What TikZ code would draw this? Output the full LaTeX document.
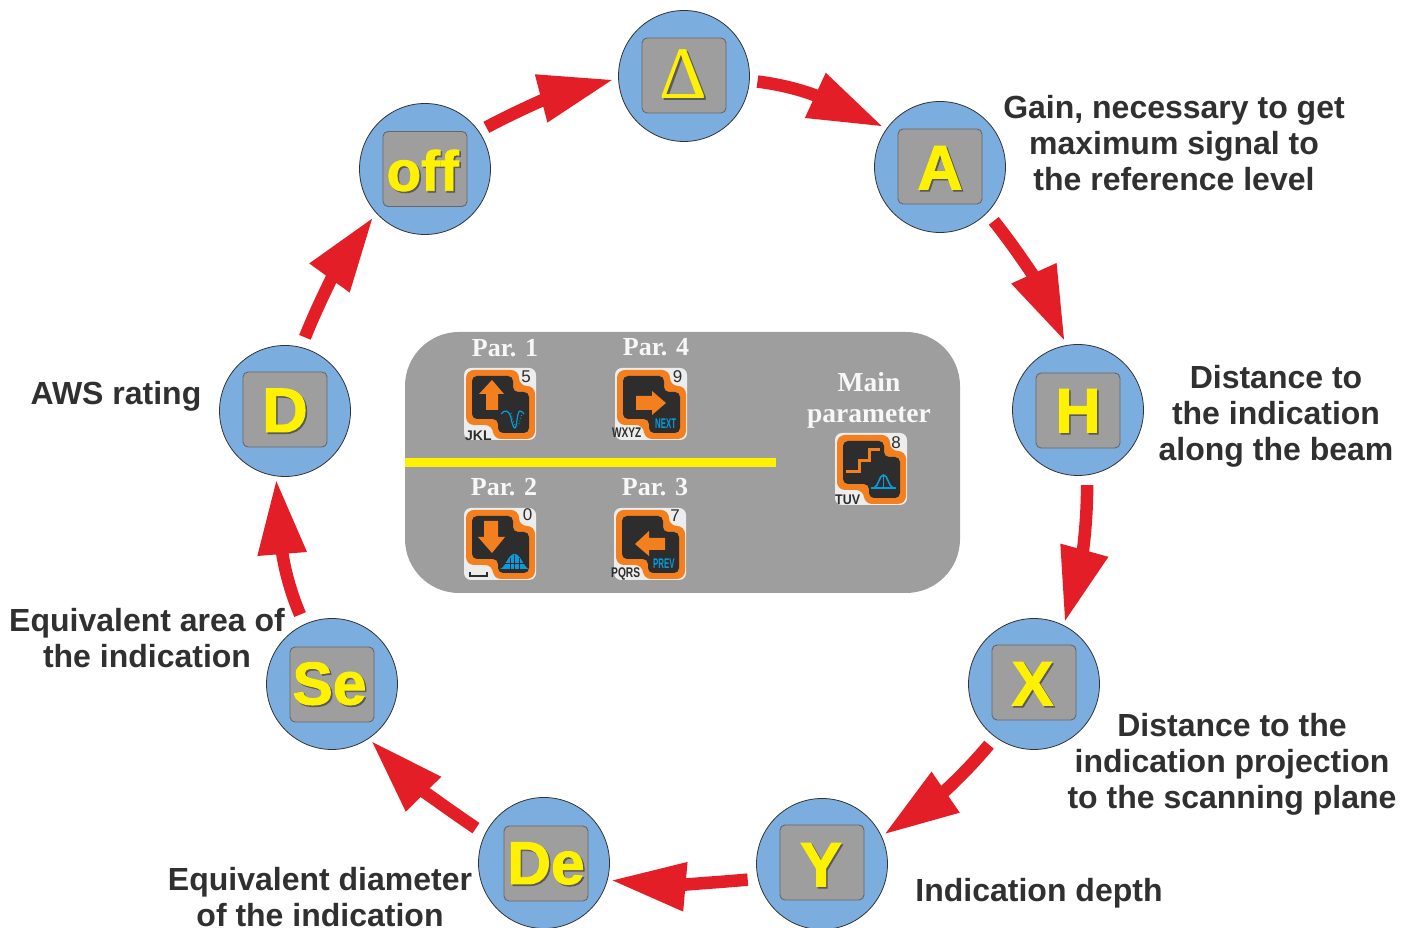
\documentclass[tikz,border=0pt]{standalone}
\usepackage{fontspec}
\usepackage{graphicx}
\setmainfont{Liberation Sans}
\newfontfamily\serifbold{Liberation Serif Bold}
\newfontfamily\serifreg{Liberation Serif}
\newfontfamily\bigf[FakeBold=1.5]{Liberation Sans Bold}
\usetikzlibrary{arrows.meta,calc}
\definecolor{circfill}{HTML}{7BAEDE}
\definecolor{sqfill}{HTML}{9E9E9E}
\definecolor{sqline}{HTML}{666666}
\definecolor{ylw}{HTML}{FFF200}
\definecolor{shd}{HTML}{5A5A5A}
\definecolor{redarrow}{HTML}{E31E26}
\definecolor{lbl}{HTML}{303030}
\definecolor{pale}{HTML}{EDEDED}
\definecolor{orng}{HTML}{F37F1E}
\definecolor{darkkey}{HTML}{2D2D2D}
\definecolor{bluek}{HTML}{0A9BDC}
\newcommand{\shtxt}[1]{\makebox[0pt][l]{\hspace{1.6pt}\raisebox{-1.6pt}{\textcolor{shd}{#1}}}#1}
\tikzset{
  keycirc/.style={circle,draw=black!80,line width=.8pt,fill=circfill,minimum size=131pt,inner sep=0pt,outer sep=0pt},
  keysq/.style={rectangle,draw=sqline,line width=.9pt,fill=sqfill,rounded corners=5pt,minimum width=84pt,minimum height=75pt,inner sep=0pt},
  bigl/.style={anchor=base,inner sep=0pt,text=ylw,font=\fontsize{63}{63}\selectfont\bigf},
  desc/.style={align=center,text=lbl,inner sep=0pt,font=\fontsize{32}{36}\selectfont\bfseries},
  ptxt/.style={inner sep=0pt,text=white!97!black,font=\fontsize{26}{31}\selectfont\serifbold,align=center},
  cyc/.style={draw=redarrow,line width=12.5pt,-{Triangle[length=75pt,width=46pt,fill=redarrow]}},
  kdigit/.style={inner sep=0pt,text=darkkey,font=\fontsize{17}{17}\selectfont},
  kletters/.style={inner sep=0pt,anchor=base west,text=darkkey,font=\fontsize{14}{14}\selectfont\bfseries},
  kblue/.style={inner sep=0pt,anchor=base west,text=bluek,font=\fontsize{14}{14}\selectfont\bfseries},
  keyat/.style 2 args={shift={(#1,928-#2)},yscale=-1},
  keybase/.pic={
    \fill[pale,rounded corners=7pt] (0,0) -- (72,0) -- (72,72) -- (0,72) -- cycle;
    \fill[orng,rounded corners=8pt] (2,2) -- (55,2) -- (55,18) -- (71,18) -- (71,71) -- (29,71) -- (29,57) -- (2,57) -- cycle;
    \fill[darkkey,rounded corners=5pt] (8,8) -- (49,8) -- (49,24) -- (65,24) -- (65,65) -- (34,65) -- (34,51) -- (8,51) -- cycle;
  }
}
\begin{document}
\begin{tikzpicture}[x=1pt,y=1pt]
\useasboundingbox (0,0) rectangle (1413,928);
% central panel
\node[rectangle,fill=sqfill,rounded corners=54pt,minimum width=555pt,minimum height=261pt,inner sep=0pt] (panel) at (682.5,465.5) {};
\node[rectangle,fill=ylw,minimum width=371pt,minimum height=9pt,inner sep=0pt] (bar) at (590.5,465.5) {};
% circles
\foreach \n/\x/\y/\sx/\sy in {delta/684/852/684/852.5,A/940/761/940/761.5,H/1078/518/1078/517.5,X/1034/244/1034/245.5,Y/822/64/822/65.5,De/544/65/546/64.5,Se/332/244/332/243.5,D/285/517/285/518.5,off/425/759/425/759}{
  \node[keycirc] (\n) at (\x,\y) {};
  \node[keysq] (\n-sq) at (\sx,\sy) {};
}
% key letters
\node[bigl] (tA) at (940,738.5) {\shtxt{A}};
\node[bigl] (tH) at (1078,495.5) {\shtxt{H}};
\node[bigl] (tX) at (1032.5,222.5) {\shtxt{X}};
\node[bigl] (tY) at (821,41.5) {\shtxt{Y}};
\node[bigl,font=\fontsize{60.5}{62}\selectfont\bigf] (tDe) at (546,44) {\shtxt{De}};
\node[bigl,font=\fontsize{60.5}{62}\selectfont\bigf] (tSe) at (329.5,223.5) {\shtxt{Se}};
\node[bigl] (tD) at (285,496) {\shtxt{D}};
\node[bigl,font=\fontsize{56.5}{58}\selectfont\bigf] (toff) at (422.7,737.3) {\shtxt{off}};
\node[bigl,font=\fontsize{74}{74}\selectfont\serifreg] (tdelta) at (683.5,829) {\shtxt{Δ}};
% arrows
\draw[cyc,shorten <=8.7pt,shorten >=5pt] (off.35.7) to[out=28,in=194.6] (delta.182.6);
\draw[cyc,shorten <=8.2pt,shorten >=4pt] (delta.-4.4) to[out=-7,in=155.2] (A.144.2);
\draw[cyc,shorten <=10.7pt,shorten >=4.3pt] (A.-44.6) to[out=-51.6,in=114.4] (H.100.9);
\draw[cyc,shorten <=10.2pt,shorten >=3.2pt] (H.-82.2) to[out=-90,in=74.7] (X.63.9);
\draw[cyc,shorten <=10.1pt,shorten >=3pt] (X.234.1) to[out=230,in=34.5] (Y.25.6);
\draw[cyc,shorten <=10.5pt,shorten >=3.4pt] (Y.193.5) to[out=185,in=-5] (De.-15.7);
\draw[cyc,shorten <=11pt,shorten >=3.4pt] (De.154.4) to[out=146,in=-45.5] (Se.-56.2);
\draw[cyc,shorten <=10.9pt,shorten >=3.4pt] (Se.115.4) to[out=113,in=-85.4] (D.262);
\draw[cyc,shorten <=10.9pt,shorten >=5.3pt] (D.76.6) to[out=68,in=234.3] (off.222.2);
% descriptions
\node[desc] (dA) at (1174,785) {Gain, necessary to get\\maximum signal to\\the reference level};
\node[desc] (dH) at (1276,512) {Distance to\\the indication\\along the beam};
\node[desc] (dX) at (1232,163.5) {Distance to the\\indication projection\\to the scanning plane};
\node[desc] (dY) at (1039,35) {Indication depth};
\node[desc] (dDe) at (320,31) {Equivalent diameter\\of the indication};
\node[desc] (dSe) at (147,289.5) {Equivalent area of\\the indication};
\node[desc] (dD) at (116,532) {AWS rating};
% panel labels
\node[ptxt] (p1) at (505,580) {Par. 1};
\node[ptxt] (p4) at (656,581) {Par. 4};
\node[ptxt] (p2) at (504,441) {Par. 2};
\node[ptxt] (p3) at (655,441) {Par. 3};
\node[ptxt,font=\fontsize{27.5}{31}\selectfont\serifbold] (pm) at (869,528) {Main\\parameter};
% Par. 1 key
\begin{scope}[keyat={464}{368}]
  \pic[transform shape] {keybase};
  \fill[orng] (28,12) -- (40,26) -- (34,26) -- (34,42) -- (22,42) -- (22,26) -- (15,26) -- cycle;
  \draw[bluek,line width=1.2pt] (37,46) .. controls (41,41) and (45,42) .. (47,50) .. controls (48,56) and (50,61) .. (51,60) .. controls (53,59) and (53,43) .. (56,43) .. controls (58,43) and (59,45) .. (60,46);
  \draw[bluek,line width=.9pt,dotted] (47,45) .. controls (49,52) and (50,58) .. (53,58) .. controls (56,58) and (56,47) .. (60,43);
  \node[kdigit] (k5) at (62,8.7) {5};
  \node[kletters] (kJ) at (1,72.5) {JKL};
\end{scope}
% Par. 4 key
\begin{scope}[keyat={615}{368}]
  \pic[transform shape] {keybase};
  \fill[orng] (21,28) -- (37,28) -- (37,23) -- (51,35) -- (37,47) -- (37,42) -- (21,42) -- cycle;
  \node[kblue] (kN) at (40,60.5) {\scalebox{.56}[1]{NEXT}};
  \node[kdigit] (k9) at (62.7,8.7) {9};
  \node[kletters] (kW) at (-3,70) {\scalebox{.72}[1]{WXYZ}};
\end{scope}
% Par. 2 key
\begin{scope}[keyat={464}{508}]
  \pic[transform shape] {keybase};
  \fill[orng] (20,13) -- (34,13) -- (34,29) -- (41,29) -- (28,45) -- (14,29) -- (20,29) -- cycle;
  \fill[bluek] (36,61) .. controls (42,59) and (44,46) .. (50.5,46) .. controls (57,46) and (59,59) .. (65,61) -- cycle;
  \draw[darkkey,line width=.7pt] (46,50) -- (46,61) (50.5,47) -- (50.5,61) (55,50) -- (55,61) (41,55) -- (60,55);
  \draw[darkkey,line width=1.4pt] (6,64) -- (6,68) -- (23,68) -- (23,64);
  \node[kdigit] (k0) at (63.7,6.5) {0};
\end{scope}
% Par. 3 key
\begin{scope}[keyat={614}{508}]
  \pic[transform shape] {keybase};
  \fill[orng] (21,36) -- (35,23) -- (35,30) -- (51,30) -- (51,42) -- (35,42) -- (35,48) -- cycle;
  \node[kblue] (kP) at (39,60.5) {\scalebox{.56}[1]{PREV}};
  \node[kdigit] (k7) at (61,8) {7};
  \node[kletters] (kQ) at (-3,70) {\scalebox{.73}[1]{PQRS}};
\end{scope}
% Main parameter key
\begin{scope}[keyat={835}{433}]
  \pic[transform shape] {keybase};
  \draw[orng,line width=3pt] (11,39) -- (24,39) -- (24,28) -- (34,28) -- (34,17) -- (45,17);
  \draw[bluek,line width=2pt] (36,55) -- (61,55);
  \draw[bluek,line width=1.6pt] (39,55) .. controls (44,53) and (44,42) .. (48.5,42) .. controls (53,42) and (53,53) .. (58,55);
  \draw[bluek,line width=1pt] (48.5,42) -- (48.5,55);
  \node[kdigit] (k8) at (61,9.7) {8};
  \node[kletters] (kT) at (0,71.5) {\scalebox{.89}[1]{TUV}};
\end{scope}
\end{tikzpicture}
\end{document}
